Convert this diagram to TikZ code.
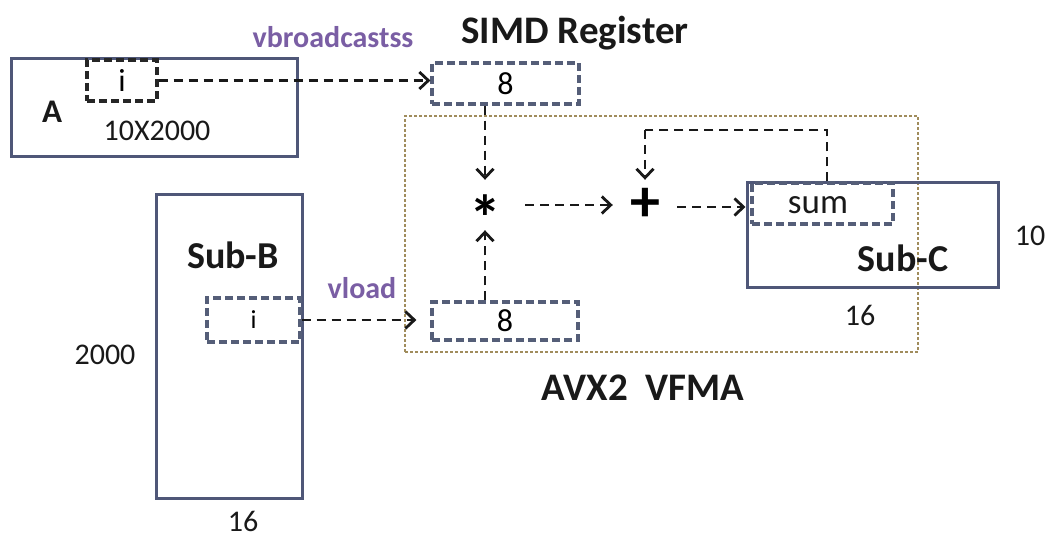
\documentclass[tikz,border=0pt]{standalone}
\usepackage{fontspec}
\setmainfont{Carlito}
\usetikzlibrary{arrows.meta}
\definecolor{boxc}{HTML}{4F5778}
\definecolor{regc}{HTML}{555E78}
\definecolor{dotc}{HTML}{A08C5C}
\definecolor{purp}{HTML}{6B4C9A}
\newcommand{\fsz}[1]{\fontsize{#1}{#1}\selectfont}
\begin{document}
\begin{tikzpicture}[x=1pt,y=-1pt,
  solidbox/.style={draw=boxc,line width=3pt,inner sep=0pt},
  regbox/.style={draw=regc,line width=3.2pt,dash pattern=on 8pt off 4pt,inner sep=0pt},
  blkbox/.style={draw=black!85,line width=3.4pt,dash pattern=on 8pt off 4pt,inner sep=0pt},
  dotbox/.style={draw=dotc,line width=1.8pt,dash pattern=on 3pt off 2pt,inner sep=0pt},
  link/.style={draw=black!90,line width=2.8pt,dash pattern=on 9pt off 6pt,-{Straight Barb[length=9pt,width=17pt,line width=2.8pt]}},
  plain/.style={draw=black!90,line width=2.8pt,dash pattern=on 9pt off 6pt},
  lbl/.style={inner sep=0pt,text=black!90},
  num/.style={lbl,font={\fsz{30}}},
  bold/.style={lbl,font={\bfseries\fsz{38}}},
  op/.style={purp!90,inner sep=0pt,font={\bfseries\fsz{30}}},
]
\useasboundingbox (0,0) rectangle (1047,537);
\fill[white] (0,0) rectangle (1047,537);

% AVX2 VFMA area
\node[dotbox,minimum width=513pt,minimum height=236pt] (avx) at (661.5,234) {};

% matrix A
\node[solidbox,minimum width=286pt,minimum height=98pt] (A) at (154,108) {};
\node[blkbox,minimum width=70pt,minimum height=41pt] (ai) at (122,80.5) {\fsz{32}i};
\node[lbl,font={\bfseries\fsz{33}}] (Alab) at (52,112) {A};
\node[num] (Adim) at (157,131) {10X2000};

% Sub-B
\node[solidbox,minimum width=146pt,minimum height=303pt] (B) at (229,346.5) {};
\node[regbox,minimum width=93pt,minimum height=44pt] (bi) at (253.5,320) {\fsz{26}i};
\node[bold] (Blab) at (233,255) {Sub-B};
\node[num] (Bh) at (105,355) {2000};
\node[num] (Bw) at (243,521) {16};

% SIMD registers
\node[regbox,minimum width=147pt,minimum height=41pt] (r1) at (505.5,83.5) {\fsz{32}8};
\node[regbox,minimum width=146pt,minimum height=38pt] (r2) at (505,321) {\fsz{32}8};
\node[lbl,font={\bfseries\fsz{39}}] (simd) at (575,33) {SIMD Register};
\node[op] (vb) at (333,37) {vbroadcastss};
\node[op] (vl) at (362,288) {vload};

% operators
\node[inner sep=0pt,minimum width=50pt,minimum height=50pt,font={\bfseries\fsz{64}}] (mul) at (485,205) {\smash{\raisebox{-0.55em}{*}}};
\node[inner sep=0pt,minimum width=64pt,minimum height=50pt,font={\bfseries\fsz{60}}] (plus) at (645,205) {\raisebox{-0.06em}{+}};

% Sub-C
\node[solidbox,minimum width=251pt,minimum height=105pt] (C) at (872.5,235.5) {};
\node[regbox,minimum width=141pt,minimum height=41pt] (sum) at (822.5,203.5) {};
\node[lbl,font={\fsz{35}}] (sumlab) at (818,205) {sum};
\node[bold] (Clab) at (903,258) {Sub-C};
\node[num] (Ch) at (1030,236) {10};
\node[num] (Cw) at (860,315) {16};

\node[lbl,font={\bfseries\fsz{39}}] (avxlab) at (643,388) {AVX2\ \ VFMA};

% connectors
\draw[link] (ai.east) -- (ai.east -| r1.west);
\draw[link] (bi.east) -- ([xshift=-14pt]bi.east -| r2.west);
\draw[link] (mul |- r1.south) -- (mul.north);
\draw[link] (mul |- r2.north) -- (mul.south);
\draw[link] ([xshift=15pt]mul.east) -- (plus.west);
\draw[link] ([yshift=-2pt]plus.east) -- ([yshift=-2pt]plus.east -| C.west);
\coordinate (fb) at (827,130);
\draw[plain] (sum.north -| fb) -- (fb) -- (fb -| plus);
\draw[link] (fb -| plus) -- (plus.north);
\end{tikzpicture}
\end{document}
